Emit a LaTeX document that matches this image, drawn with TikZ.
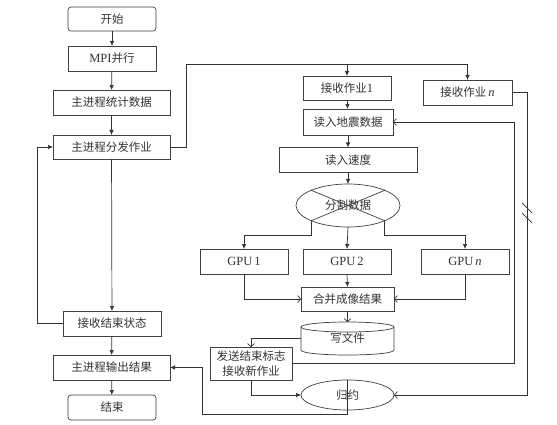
\documentclass[tikz,border=0pt]{standalone}
\usepackage{fontspec}
\setmainfont{Liberation Serif}
\newfontfamily\cjk{Noto Sans CJK SC}
\newcommand\latn[1]{{\fontsize{12.5}{15}\selectfont\rmfamily #1}}
\usetikzlibrary{shapes.geometric,arrows.meta,calc}
\begin{document}
\begin{tikzpicture}[x=1pt,y=-1pt,
  line width=0.7pt, draw=black!80,
  every node/.style={font=\fontsize{11.5}{15}\selectfont\cjk, text=black!80, inner sep=0pt, outer sep=0pt},
  box/.style={draw=black!75, rectangle, minimum height=25pt},
  rbox/.style={box, rounded corners=3pt},
  ell/.style={draw=black!75, ellipse},
  arr/.style={-{Latex[length=5pt,width=4.5pt]}},
  oarr/.style={-{Straight Barb[length=3pt,width=7pt]}},
]
\fill[white] (0,0) rectangle (557,425);
\useasboundingbox (0,0) rectangle (557,425);

% left column
\node[rbox, minimum width=88pt, minimum height=24pt] (start) at (112,19) {开始};
\node[box, minimum width=88pt] (mpi) at (112,58.5) {\latn{MPI}并行};
\node[box, minimum width=117pt] (stat) at (111.5,102.5) {主进程统计数据};
\node[box, minimum width=117pt, minimum height=24pt] (dist) at (111.5,147) {主进程分发作业};
\node[box, minimum width=98pt] (recv) at (112,323.5) {接收结束状态};
\node[box, minimum width=117pt] (out) at (111.5,367.5) {主进程输出结果};
\node[rbox, minimum width=88pt] (end) at (112,407.5) {结束};

% right part
\node[box, minimum width=88pt, minimum height=24pt] (job1) at (347,88) {接收作业\latn{1}};
\node[box, minimum width=89pt] (jobn) at (467.5,92.5) {接收作业\latn{\,\textit{n}}};
\node[box, minimum width=90pt, minimum height=26pt] (seis) at (348,122) {读入地震数据};
\node[box, minimum width=138pt] (vel) at (348,160) {读入速度};
\node[ell, minimum width=104pt, minimum height=43pt] (seg) at (348,205.5) {分割数据};
\node[box, minimum width=88pt] (gpu1) at (244,261.5) {\latn{GPU\,1}};
\node[box, minimum width=88pt] (gpu2) at (347,261.5) {\latn{GPU\,2}};
\node[box, minimum width=88pt] (gpun) at (465,261.5) {\latn{GPU\,\textit{n}}};
\node[box, minimum width=93pt, minimum height=24pt] (merge) at (347.5,299) {合并成像结果};
\node[minimum width=93pt, minimum height=33pt] (wf) at (347.5,338.5) {\raisebox{-2pt}{写文件}};
\node[box, minimum width=82pt, minimum height=33pt, align=center] (send) at (251,363.5) {发送结束标志\\接收新作业};
\node[ell, minimum width=93pt, minimum height=30pt] (red) at (347.5,395) {归约};

% cylinder outline
\draw[black!75] ($(wf.north west)+(0,5)$) -- ($(wf.south west)+(0,-5)$)
  .. controls ($(wf.south west)+(0,1.67)$) and ($(wf.south east)+(0,1.67)$) .. ($(wf.south east)+(0,-5)$)
  -- ($(wf.north east)+(0,5)$);
\draw[black!75] ($(wf.north)+(0,5)$) ellipse [x radius=46.5pt, y radius=5pt];

% cross in seg
\draw[black!75] (seg.north west) -- (seg.south east);
\draw[black!75] (seg.north east) -- (seg.south west);

% coordinates
\coordinate (tj) at (186,64);
\coordinate (sy) at (0,235);
\coordinate (rx1) at (514,0);
\coordinate (rx2) at (527,0);
\coordinate (lx) at (37,0);
\coordinate (rb) at (347.5,414);
\coordinate (rl) at (202,414);
\coordinate (sl1) at (527,208);
\coordinate (sl2) at (527,218);

% left connectors
\draw[arr] (start) -- (mpi);
\draw[arr] (mpi) -- (stat);
\draw[arr] (stat) -- (dist);
\draw[arr] (dist) -- (recv);
\draw[arr] (recv) -- (out);
\draw[arr] (out) -- (end);
\draw[arr] (recv.west) -- (lx |- recv.west) |- (dist.west);

% distribution
\draw[arr] (dist.east) -| (tj) -| (jobn.north);
\draw[arr] (job1.north |- tj) -- (job1.north);
\draw[arr] (job1) -- (seis);
\draw[arr] (seis) -- (vel);
\draw[arr] (vel) -- (seg);

% gpus
\draw[arr] (seg.south west) -- (seg.south west |- sy) -| (gpu1.north);
\draw[arr] (seg.south) -- (gpu2.north);
\draw[arr] (seg.south east) -- (seg.south east |- sy) -| (gpun.north);
\draw[oarr] (gpu1.south) |- (merge.west);
\draw[arr] (gpu2.south) -- (merge.north);
\draw[oarr] (gpun.south) |- (merge.east);
\draw[oarr] (merge.south) -- (wf.north);
\draw[oarr] (wf.west) -| (send.north);

% loops
\draw[oarr] (send.east) -| (rx1 |- seis.east) -- (seis.east);
\draw[oarr] (jobn.east) -| (rx2 |- red.east) -- (red.east);
\draw ($(sl1)+(-5,-5)$) -- ($(sl1)+(5,5)$);
\draw ($(sl2)+(-5,-5)$) -- ($(sl2)+(5,5)$);
\draw[arr] (send.south) |- (red.west);
\draw[arr] (red.north) -- (rb) -- (rl) |- (out.east);
\end{tikzpicture}
\end{document}
